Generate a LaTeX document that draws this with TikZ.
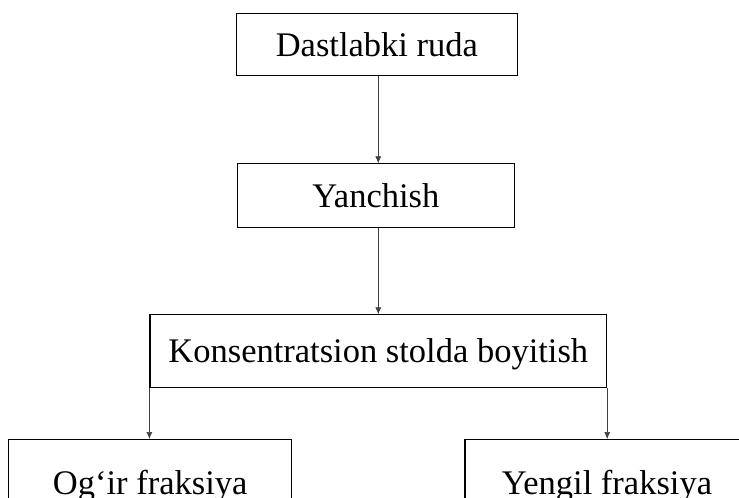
\documentclass[tikz,border=0pt]{standalone}
\usepackage{fontspec}
\setmainfont{Liberation Serif}
\usetikzlibrary{arrows.meta}
\begin{document}
\begin{tikzpicture}[x=1pt,y=-1pt,
  box/.style={draw=black, line width=1.1pt, inner sep=0pt, anchor=north,
    font=\fontsize{34.5}{40}\selectfont},
  conn/.style={draw=black!75, line width=0.7pt, -{Latex[length=7pt,width=6pt]}}]
\useasboundingbox (0,0) rectangle (739,498);
\node[box, minimum width=281.7, text height=43.3, text depth=18.7] (a) at (376.9,12.7) {Dastlabki ruda};
\node[box, minimum width=276.3, text height=44, text depth=19.4] (b) at (375.9,163.3) {Yanchish};
\node[box, minimum width=456.7, text height=48, text depth=25] (c) at (378.3,314.3) {Konsentratsion stolda boyitish};
\node[box, minimum width=283, text height=55, text depth=45] (d) at (150.2,439) {Og‘ir fraksiya};
\node[box, minimum width=284, text height=55, text depth=45] (e) at (607,439) {Yengil fraksiya};
\draw[conn] (a.south -| 378.3,0) -- (b.north -| 378.3,0);
\draw[conn] (b.south -| 378.3,0) -- (c.north -| 378.3,0);
\draw[conn] (c.south west) -- (c.south west |- d.north);
\draw[conn] (c.south east) -- (c.south east |- e.north);
\end{tikzpicture}
\end{document}
